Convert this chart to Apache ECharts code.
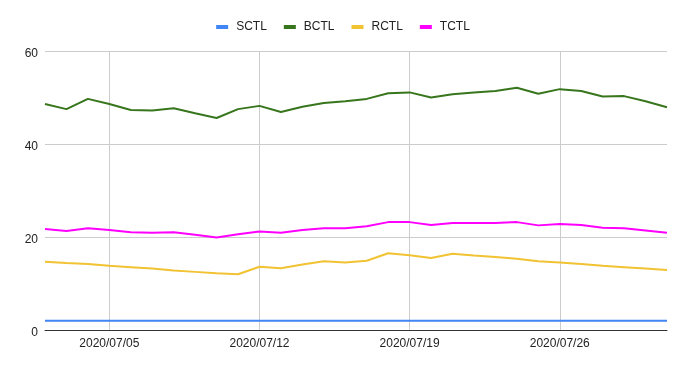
<!DOCTYPE html>
<html><head><meta charset="utf-8">
<script src="https://cdn.jsdelivr.net/npm/echarts@6/dist/echarts.min.js"></script>
<style>html,body{margin:0;padding:0;background:#fff}#c{width:686px;height:369px}</style>
</head><body><div id="c"></div>
<script>
const categories = ['2020/07/02','2020/07/03','2020/07/04','2020/07/05','2020/07/06','2020/07/07','2020/07/08','2020/07/09','2020/07/10','2020/07/11','2020/07/12','2020/07/13','2020/07/14','2020/07/15','2020/07/16','2020/07/17','2020/07/18','2020/07/19','2020/07/20','2020/07/21','2020/07/22','2020/07/23','2020/07/24','2020/07/25','2020/07/26','2020/07/27','2020/07/28','2020/07/29','2020/07/30','2020/07/31'];
const SCTL = [2,2,2,2,2,2,2,2,2,2,2,2,2,2,2,2,2,2,2,2,2,2,2,2,2,2,2,2,2,2];
const BCTL = [48.6,47.5,49.7,48.6,47.3,47.2,47.7,46.6,45.6,47.5,48.2,46.9,48.0,48.8,49.2,49.7,50.9,51.1,50.0,50.7,51.1,51.4,52.1,50.8,51.8,51.4,50.2,50.3,49.2,47.9];
const RCTL = [14.7,14.4,14.2,13.8,13.5,13.2,12.8,12.5,12.2,12.0,13.6,13.3,14.1,14.8,14.5,14.9,16.5,16.1,15.5,16.4,16.0,15.7,15.3,14.8,14.5,14.2,13.8,13.5,13.2,12.9];
const TCTL = [21.7,21.3,21.9,21.5,21.0,20.9,21.0,20.5,19.9,20.6,21.2,20.9,21.5,21.9,21.9,22.3,23.2,23.2,22.6,23.0,23.0,23.0,23.2,22.5,22.8,22.6,22.0,21.9,21.4,20.9];
const yTicks = [0,20,40,60];
const colors = ['#4285f4','#38761d','#f1c232','#ff00ff'];

const chart = echarts.init(document.getElementById('c'));
const showIdx = (i) => i % 7 === 3;
const mk = (name, data, i) => ({name, type:'line', data, symbol:'none', lineStyle:{width:2, color:colors[i]}, itemStyle:{color:colors[i]}});
chart.setOption({
  animation:false,
  color: colors,
  legend:{top:16, left:'center', icon:'rect', itemWidth:12, itemHeight:4, itemGap:17,
    textStyle:{fontFamily:'Liberation Sans, Arial', fontSize:12, color:'#222', padding:[0,0,0,3]},
    data:['SCTL','BCTL','RCTL','TCTL']},
  grid:{left:45, right:19, top:51, bottom:39, containLabel:false},
  xAxis:{type:'category', data:categories, boundaryGap:false,
    axisLine:{lineStyle:{color:'#333', width:1}}, axisTick:{show:false},
    axisLabel:{interval:(i)=>showIdx(i), color:'#222', fontFamily:'Liberation Sans, Arial', fontSize:12, margin:8},
    splitLine:{show:true, interval:(i)=>showIdx(i), lineStyle:{color:'#cccccc'}}},
  yAxis:{type:'value', min:yTicks[0], max:yTicks[yTicks.length-1], interval:20,
    axisLine:{show:false}, axisTick:{show:false},
    axisLabel:{color:'#222', fontFamily:'Liberation Sans, Arial', fontSize:12, margin:7,
      formatter:'{v|{value}}',
      rich:{v:{color:'#222', fontFamily:'Liberation Sans, Arial', fontSize:12, padding:[5,0,0,0]}}},
    splitLine:{lineStyle:{color:'#cccccc'}}},
  series:[mk('SCTL',SCTL,0), mk('BCTL',BCTL,1), mk('RCTL',RCTL,2), mk('TCTL',TCTL,3)]
});
</script></body></html>
